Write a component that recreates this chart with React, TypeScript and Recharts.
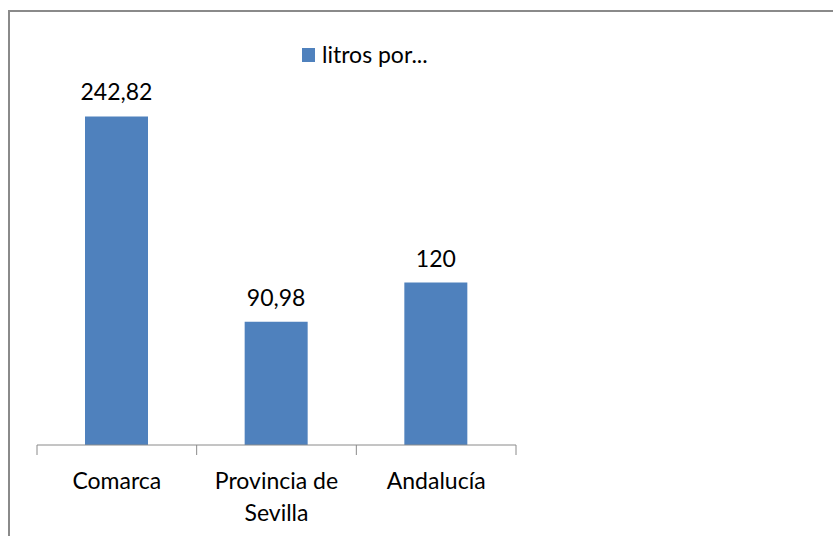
import React from "react";
import { BarChart, Bar, XAxis, YAxis, Legend, LabelList } from "recharts";

const categories = ["Comarca", "Provincia de Sevilla", "Andalucía"];
const litros = [242.82, 90.98, 120];
const seriesName = "litros por...";

const W = 833;
const H = 536;
const MARGIN = { top: 39, right: 317, left: 37, bottom: 0 };
const PLOT_W = W - MARGIN.left - MARGIN.right;
const FONT = "Lato, 'Open Sans', sans-serif";
const FONT_SIZE = 23;
const BAR_COLOR = "#4F81BD";
const LINE_COLOR = "#8a8a8a";
// the legend sits at the bottom in recharts' layout and takes this much height
const LEGEND_H = 27;

const data = categories.map((name, i) => ({ name, value: litros[i] }));

const wrap = (label: string, maxChars = 12) => {
  const lines: string[] = [];
  let cur = "";
  label.split(" ").forEach((w) => {
    const next = cur ? cur + " " + w : w;
    if (next.length > maxChars && cur) {
      lines.push(cur);
      cur = w;
    } else cur = next;
  });
  if (cur) lines.push(cur);
  return lines;
};

const fmt = (v: any) => String(v).replace(".", ",");

const CategoryTick = (props: any) => {
  const { x, y, payload, index } = props;
  const band = PLOT_W / categories.length;
  const lines = wrap(String(payload.value));
  return (
    <g>
      <line x1={x - band / 2} y1={y} x2={x - band / 2} y2={y + 10} stroke={LINE_COLOR} />
      {index === categories.length - 1 && (
        <line x1={x + band / 2} y1={y} x2={x + band / 2} y2={y + 10} stroke={LINE_COLOR} />
      )}
      <text x={x} y={y + 44} textAnchor="middle" fill="#000" fontSize={FONT_SIZE} fontFamily={FONT}>
        {lines.map((l, i) => (
          <tspan key={i} x={x} dy={i ? 32 : 0}>
            {l}
          </tspan>
        ))}
      </text>
    </g>
  );
};

const LegendContent = () => (
  <div style={{ display: "flex", alignItems: "center", fontFamily: FONT, fontSize: FONT_SIZE, lineHeight: "27px" }}>
    <span style={{ width: 13, height: 14, background: BAR_COLOR, display: "inline-block", marginRight: 7 }} />
    <span>{seriesName}</span>
  </div>
);

export default function App() {
  return (
    <div style={{ position: "absolute", left: 0, top: 0, width: W, height: H, background: "#fff" }}>
      <div
        style={{
          position: "absolute",
          left: 8,
          top: 10,
          right: 0,
          bottom: 0,
          borderTop: `2px solid ${LINE_COLOR}`,
          borderLeft: `2px solid ${LINE_COLOR}`,
        }}
      />
      <BarChart width={W} height={H} data={data} margin={MARGIN}>
        <XAxis
          dataKey="name"
          height={91 - LEGEND_H}
          tickLine={false}
          tickSize={0}
          tickMargin={0}
          axisLine={{ stroke: LINE_COLOR }}
          tick={<CategoryTick />}
          interval={0}
        />
        <YAxis hide width={0} domain={[0, 300]} />
        <Legend
          content={<LegendContent />}
          height={LEGEND_H}
          wrapperStyle={{ position: "absolute", left: 302, top: 41, width: "auto" }}
        />
        <Bar dataKey="value" name={seriesName} fill={BAR_COLOR} barSize={63} isAnimationActive={false}>
          <LabelList
            dataKey="value"
            position="top"
            offset={16}
            formatter={fmt}
            fill="#000"
            fontSize={FONT_SIZE}
            fontFamily={FONT}
          />
        </Bar>
      </BarChart>
    </div>
  );
}
